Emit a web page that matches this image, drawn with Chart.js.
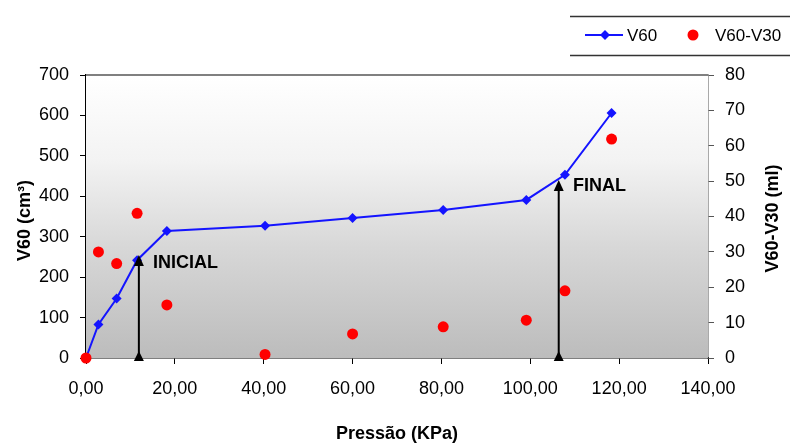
<!DOCTYPE html>
<html>
<head>
<meta charset="utf-8">
<title>V60 x Pressão</title>
<script src="https://cdn.jsdelivr.net/npm/chart.js@4/dist/chart.umd.min.js"></script>
<style>
  html, body { margin: 0; padding: 0; background: #ffffff; }
  #wrap { width: 790px; height: 443px; }
</style>
</head>
<body>
<div id="wrap"><canvas id="pressaoChart" width="790" height="443"></canvas></div>
<script>
  // dados
  const pressao = [0, 2.8, 6.9, 11.5, 18.2, 40.3, 60.0, 80.4, 99.1, 107.8, 118.3];
  const v60 = [0, 83, 147, 242, 314, 327, 346, 366, 391, 453, 606];
  const v60v30 = [0, 30, 26.7, 40.9, 15, 1, 6.8, 8.8, 10.7, 19, 61.9];

  // marcos (setas) INICIAL / FINAL
  const marcos = ["INICIAL", "FINAL"];
  const marcoX = [11.9, 106.4];
  const marcoTopo = [255, 440];
  const marcoTextoX = [15.1, 109.6];
  const marcoTextoY = [235, 426];

  const FONT = "'Liberation Sans', Arial, sans-serif";

  const fmtVirgula = (v) => Number(v).toFixed(2).replace(".", ",");

  // fundo em degradê + bordas + setas + títulos + legenda
  const extras = {
    id: "extras",
    beforeDatasetsDraw(chart) {
      const { ctx, chartArea: a } = chart;
      ctx.save();
      const g = ctx.createLinearGradient(0, a.top, 0, a.bottom);
      g.addColorStop(0, "#ffffff");
      g.addColorStop(0.3, "#f3f3f3");
      g.addColorStop(0.6, "#d8d8d8");
      g.addColorStop(1, "#bcbcbc");
      ctx.fillStyle = g;
      ctx.fillRect(a.left, a.top, a.right - a.left, a.bottom - a.top);
      // borda superior
      ctx.strokeStyle = "#808080";
      ctx.lineWidth = 2;
      ctx.beginPath();
      ctx.moveTo(a.left, a.top);
      ctx.lineTo(a.right, a.top);
      ctx.stroke();
      ctx.restore();
    },
    afterDatasetsDraw(chart) {
      const { ctx } = chart;
      const xs = chart.scales.x;
      const ys = chart.scales.y;
      ctx.save();
      marcos.forEach((txt, i) => {
        const px = xs.getPixelForValue(marcoX[i]);
        const p0 = ys.getPixelForValue(0);
        const p1 = ys.getPixelForValue(marcoTopo[i]);
        ctx.strokeStyle = "#000000";
        ctx.fillStyle = "#000000";
        ctx.lineWidth = 2;
        ctx.beginPath();
        ctx.moveTo(px, p0);
        ctx.lineTo(px, p1 + 6);
        ctx.stroke();
        // ponta da seta
        ctx.beginPath();
        ctx.moveTo(px, p1);
        ctx.lineTo(px - 5, p1 + 11);
        ctx.lineTo(px + 5, p1 + 11);
        ctx.closePath();
        ctx.fill();
        // triângulo na base
        ctx.beginPath();
        ctx.moveTo(px, p0 - 7);
        ctx.lineTo(px - 5, p0 + 3);
        ctx.lineTo(px + 5, p0 + 3);
        ctx.closePath();
        ctx.fill();
        ctx.font = "bold 18px " + FONT;
        ctx.textAlign = "left";
        ctx.textBaseline = "middle";
        ctx.fillText(txt, xs.getPixelForValue(marcoTextoX[i]), ys.getPixelForValue(marcoTextoY[i]));
      });
      ctx.restore();
    },
    afterDraw(chart) {
      const { ctx, chartArea: a } = chart;
      ctx.save();
      ctx.fillStyle = "#000000";
      ctx.font = "bold 18px " + FONT;
      ctx.textAlign = "center";
      ctx.textBaseline = "middle";
      ctx.fillText("Pressão (KPa)", (a.left + a.right) / 2, 434);
      const midY = (a.top + a.bottom) / 2;
      ctx.save();
      ctx.translate(25, midY + 4);
      ctx.rotate(-Math.PI / 2);
      ctx.fillText("V60 (cm³)", 0, 0);
      ctx.restore();
      ctx.save();
      ctx.translate(773, midY + 2);
      ctx.rotate(-Math.PI / 2);
      ctx.fillText("V60-V30 (ml)", 0, 0);
      ctx.restore();

      // legenda
      const ds = chart.data.datasets;
      ctx.strokeStyle = "#333333";
      ctx.lineWidth = 1.5;
      ctx.beginPath();
      ctx.moveTo(570, 16.5);
      ctx.lineTo(790, 16.5);
      ctx.moveTo(570, 55.5);
      ctx.lineTo(790, 55.5);
      ctx.stroke();
      ctx.strokeStyle = ds[0].borderColor;
      ctx.lineWidth = 2;
      ctx.beginPath();
      ctx.moveTo(585, 35);
      ctx.lineTo(623, 35);
      ctx.stroke();
      ctx.fillStyle = ds[0].pointBackgroundColor;
      ctx.beginPath();
      ctx.moveTo(605, 30);
      ctx.lineTo(610, 35);
      ctx.lineTo(605, 40);
      ctx.lineTo(600, 35);
      ctx.closePath();
      ctx.fill();
      ctx.fillStyle = ds[1].pointBackgroundColor;
      ctx.beginPath();
      ctx.arc(693, 35, 5.5, 0, Math.PI * 2);
      ctx.fill();
      ctx.fillStyle = "#000000";
      ctx.font = "17px " + FONT;
      ctx.textAlign = "left";
      ctx.fillText(ds[0].label, 627, 36);
      ctx.fillText(ds[1].label, 715, 36);
      ctx.restore();
    },
  };

  const ctx = document.getElementById("pressaoChart");

  new Chart(ctx, {
    type: "scatter",
    data: {
      datasets: [
        {
          label: "V60",
          data: pressao.map((x, i) => ({ x: x, y: v60[i] })),
          yAxisID: "y",
          showLine: true,
          borderColor: "#1414ff",
          backgroundColor: "#1414ff",
          pointBackgroundColor: "#1414ff",
          borderWidth: 2,
          pointStyle: "rectRot",
          pointRadius: 5,
          pointBorderWidth: 0,
          clip: false,
          order: 1,
        },
        {
          label: "V60-V30",
          data: pressao.map((x, i) => ({ x: x, y: v60v30[i] })),
          yAxisID: "y1",
          showLine: false,
          borderColor: "#ff0000",
          backgroundColor: "#ff0000",
          pointBackgroundColor: "#ff0000",
          pointStyle: "circle",
          pointRadius: 5.5,
          pointBorderWidth: 0,
          clip: false,
          order: 0,
        },
      ],
    },
    options: {
      responsive: false,
      animation: false,
      layout: { padding: { top: 75, left: 0, right: 0, bottom: 0 } },
      plugins: {
        legend: { display: false },
        tooltip: { enabled: false },
      },
      scales: {
        x: {
          type: "linear",
          min: 0,
          max: 140,
          afterFit: (axis) => { axis.height = 85; },
          grid: { drawOnChartArea: false, drawTicks: true, tickLength: 6, color: "#000000", lineWidth: 1 },
          border: { display: true, color: "#000000", width: 1.5 },
          ticks: {
            stepSize: 20,
            padding: 14,
            color: "#000000",
            font: { family: FONT, size: 18 },
            callback: (v) => fmtVirgula(v),
          },
        },
        y: {
          position: "left",
          min: 0,
          max: 700,
          afterFit: (axis) => { axis.width = 86; },
          grid: { drawOnChartArea: false, drawTicks: true, tickLength: 6, color: "#000000", lineWidth: 1 },
          border: { display: true, color: "#000000", width: 1.5 },
          ticks: {
            stepSize: 100,
            padding: 11,
            color: "#000000",
            font: { family: FONT, size: 18 },
          },
        },
        y1: {
          position: "right",
          min: 0,
          max: 80,
          afterFit: (axis) => { axis.width = 82; },
          grid: { drawOnChartArea: false, drawTicks: true, tickLength: 6, color: "#555555", lineWidth: 1 },
          border: { display: true, color: "#555555", width: 1.5 },
          ticks: {
            stepSize: 10,
            padding: 11,
            color: "#000000",
            font: { family: FONT, size: 18 },
          },
        },
      },
    },
    plugins: [extras],
  });
</script>
</body>
</html>
